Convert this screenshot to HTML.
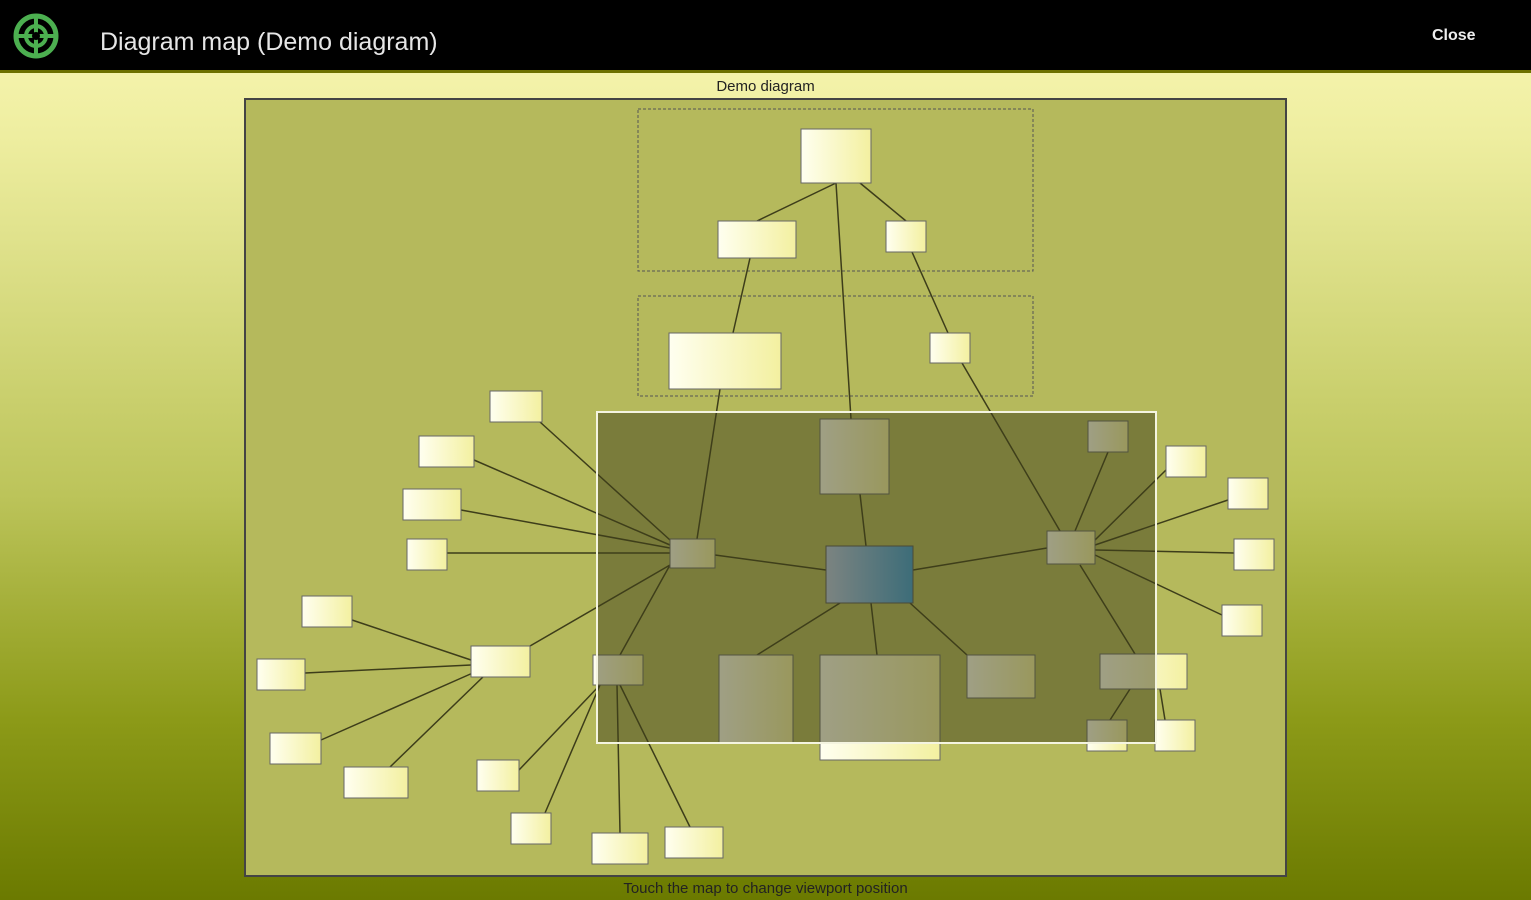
<!DOCTYPE html>
<html><head><meta charset="utf-8"><style>
html,body{margin:0;padding:0}
body{width:1531px;height:900px;overflow:hidden;position:relative;font-family:"Liberation Sans",sans-serif;background:linear-gradient(to bottom,#fbf8b6 0%,#eeeea0 15%,#bcc45a 55%,#8c9a18 80%,#6b7a00 100%)}
#hdr{position:absolute;left:0;top:0;width:1531px;height:70px;background:#000;border-bottom:3px solid #6d7000}
#title{position:absolute;left:100px;top:26px;color:#e6e6e6;font-size:25px;line-height:32px}
#close{position:absolute;left:1432px;top:27px;color:#eee;font-size:16px;font-weight:bold}
.lbl{position:absolute;width:1531px;text-align:center;left:0;font-size:15px;color:#222}
</style></head><body>
<div id="hdr">
<svg style="position:absolute;left:12px;top:12px" width="48" height="48" viewBox="0 0 48 48">
<circle cx="24" cy="24" r="20" fill="none" stroke="#4caf50" stroke-width="5"/>
<circle cx="24" cy="24" r="10" fill="none" stroke="#4caf50" stroke-width="4"/>
<path d="M24 2V46M2 24H46" stroke="#4caf50" stroke-width="4"/>
<circle cx="24" cy="24" r="4" fill="#000"/>
</svg>
<div id="title">Diagram map (Demo diagram)</div>
<div id="close">Close</div>
</div>
<div class="lbl" style="top:78px">Demo diagram</div>
<div class="lbl" style="top:880px">Touch the map to change viewport position</div>
<svg style="position:absolute;left:0;top:0" width="1531" height="900">
<defs><linearGradient id="ng" x1="0" x2="1"><stop offset="0" stop-color="#fffff0"/><stop offset="1" stop-color="#f3f0a0"/></linearGradient>
<linearGradient id="bg" x1="0" x2="1"><stop offset="0" stop-color="#b8c8e8"/><stop offset="1" stop-color="#3a9ad8"/></linearGradient></defs>
<rect x="245" y="99" width="1041" height="777" fill="#b5b95c" stroke="#444" stroke-width="2"/>
<g fill="none" stroke="#555" stroke-dasharray="3,2"><rect x="638" y="109" width="395" height="162"/><rect x="638" y="296" width="395" height="100"/></g>
<g stroke="#3d3d1a" stroke-width="1.5" fill="none">
<path d="M836 183L757 221M836 183L851 419M860 183L906 221M750 258L733 333M912 252L948 333M720 389L697 539M962 363L1060 531M540 422L670 540M474 460L670 545M461 510L670 548M447 553L670 553M715 555L826 570M860 494L866 546M913 570L1047 548M1108 452L1075 531M1095 540L1166 470M1095 545L1228 500M1095 550L1234 553M1095 555L1222 615M1080 565L1135 654M1130 689L1110 720M1160 689L1165 720M840 603L757 655M871 603L877 655M910 603L967 655M670 565L530 646M670 565L620 655M471 660L352 620M471 665L305 673M475 672L321 740M485 675L390 767M600 685L519 770M600 685L545 813M617 685L620 833M620 685L690 827"/>
</g>
<g fill="url(#ng)" stroke="#666" stroke-width="1">
<rect x="801" y="129" width="70" height="54"/><rect x="718" y="221" width="78" height="37"/><rect x="886" y="221" width="40" height="31"/>
<rect x="669" y="333" width="112" height="56"/><rect x="930" y="333" width="40" height="30"/>
<rect x="490" y="391" width="52" height="31"/><rect x="419" y="436" width="55" height="31"/><rect x="403" y="489" width="58" height="31"/><rect x="407" y="539" width="40" height="31"/>
<rect x="670" y="539" width="45" height="29"/><rect x="820" y="419" width="69" height="75"/>
<rect x="1088" y="421" width="40" height="31"/><rect x="1047" y="531" width="48" height="33"/>
<rect x="1166" y="446" width="40" height="31"/><rect x="1228" y="478" width="40" height="31"/><rect x="1234" y="539" width="40" height="31"/><rect x="1222" y="605" width="40" height="31"/>
<rect x="1100" y="654" width="87" height="35"/><rect x="1087" y="720" width="40" height="31"/><rect x="1155" y="720" width="40" height="31"/>
<rect x="719" y="655" width="74" height="88"/><rect x="820" y="655" width="120" height="105"/><rect x="967" y="655" width="68" height="43"/>
<rect x="593" y="655" width="50" height="30"/><rect x="471" y="646" width="59" height="31"/>
<rect x="302" y="596" width="50" height="31"/><rect x="257" y="659" width="48" height="31"/><rect x="270" y="733" width="51" height="31"/><rect x="344" y="767" width="64" height="31"/>
<rect x="477" y="760" width="42" height="31"/><rect x="511" y="813" width="40" height="31"/><rect x="592" y="833" width="56" height="31"/><rect x="665" y="827" width="58" height="31"/>
</g>
<rect x="826" y="546" width="87" height="57" fill="url(#bg)" stroke="#555"/>
<rect x="597" y="412" width="559" height="331" fill="#40401a" fill-opacity="0.5" stroke="#f4f4e0" stroke-width="2"/>
</svg>
</body></html>
